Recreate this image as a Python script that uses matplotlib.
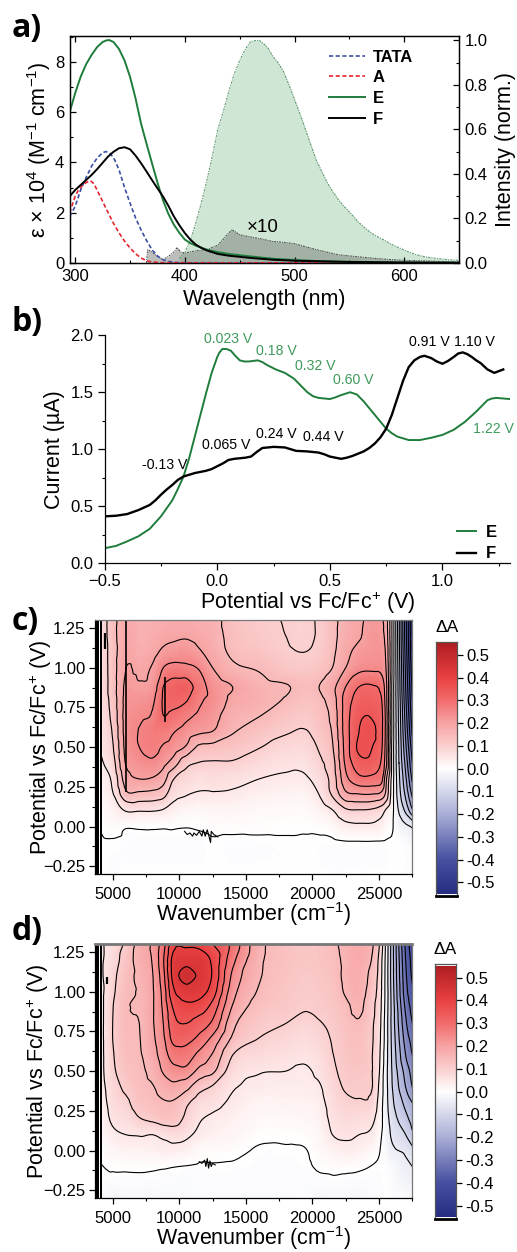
#!/usr/bin/env python

import numpy as np
import matplotlib
matplotlib.use('Agg')
import matplotlib.pyplot as plt
import matplotlib.tri as mtri
from matplotlib.colors import LinearSegmentedColormap, Normalize
from matplotlib.ticker import MultipleLocator

W, H = 517, 1252

plt.rcParams['font.family'] = ['Liberation Sans', 'DejaVu Sans']
plt.rcParams['mathtext.fontset'] = 'custom'
plt.rcParams['mathtext.rm'] = 'Liberation Sans'
plt.rcParams['mathtext.default'] = 'regular'
plt.rcParams['axes.linewidth'] = 0.9

# Panel a: absorption
abs_E_nm = [295, 300, 305, 310, 315, 320, 325, 328, 331, 335, 340, 345, 350, 355, 360, 365, 370, 375, 380, 385, 390, 395, 400, 405, 410, 420, 430, 440, 460, 480, 500, 520, 550, 600, 650]
abs_E = [6.0, 6.75, 7.4, 7.9, 8.27, 8.58, 8.78, 8.84, 8.86, 8.78, 8.5, 8.05, 7.4, 6.55, 5.55, 4.75, 3.97, 3.2, 2.5, 1.95, 1.52, 1.2, 0.93, 0.79, 0.69, 0.53, 0.43, 0.36, 0.26, 0.17, 0.12, 0.08, 0.05, 0.02, 0.01]
abs_F_nm = [295, 300, 305, 310, 315, 320, 325, 330, 335, 340, 345, 350, 355, 360, 365, 370, 375, 380, 385, 390, 395, 400, 405, 410, 415, 420, 430, 440, 460, 480, 500, 550, 600, 650]
abs_F = [2.65, 2.9, 3.1, 3.3, 3.5, 3.73, 3.98, 4.23, 4.42, 4.56, 4.6, 4.52, 4.27, 3.97, 3.64, 3.3, 2.97, 2.65, 2.27, 1.85, 1.5, 1.19, 0.93, 0.73, 0.6, 0.5, 0.36, 0.29, 0.2, 0.13, 0.09, 0.04, 0.02, 0.01]
abs_TATA_nm = [295, 300, 305, 310, 315, 320, 325, 328, 332, 336, 340, 345, 350, 355, 360, 365, 370, 375, 380, 385, 390, 400, 650]
abs_TATA = [1.85, 2.25, 2.9, 3.4, 3.85, 4.17, 4.38, 4.43, 4.35, 4.1, 3.7, 3.0, 2.38, 1.8, 1.32, 0.9, 0.53, 0.28, 0.13, 0.06, 0.03, 0.0, 0.0]
abs_A_nm = [295, 298, 300, 303, 306, 310, 314, 317, 320, 325, 330, 335, 340, 345, 350, 355, 360, 365, 370, 380, 650]
abs_A = [2.0, 2.4, 2.65, 2.9, 3.05, 3.2, 3.27, 3.15, 2.9, 2.45, 2.0, 1.57, 1.2, 0.87, 0.6, 0.37, 0.2, 0.09, 0.04, 0.01, 0.0]

# Panel a: emission
em_E_nm = [395, 400, 405, 410, 415, 420, 425, 430, 435, 440, 445, 450, 455, 460, 465, 468, 472, 476, 480, 485, 490, 495, 500, 505, 510, 515, 520, 525, 530, 535, 540, 545, 551, 558, 566, 573, 581, 588, 596, 604, 611, 620, 630, 640, 650]
em_E = [0.02, 0.05, 0.1, 0.18, 0.27, 0.37, 0.48, 0.6, 0.68, 0.77, 0.85, 0.91, 0.96, 0.995, 1.0, 1.0, 0.985, 0.965, 0.93, 0.9, 0.86, 0.8, 0.735, 0.67, 0.6, 0.53, 0.46, 0.41, 0.36, 0.32, 0.285, 0.255, 0.225, 0.185, 0.15, 0.125, 0.105, 0.085, 0.067, 0.05, 0.037, 0.027, 0.02, 0.015, 0.012]
em_F_nm = [365, 366, 370, 375, 380, 385, 390, 393, 396, 400, 410, 420, 430, 440, 443, 450, 460, 470, 480, 490, 500, 520, 540, 560, 580, 600, 650]
em_F = [0.0, 0.06, 0.05, 0.03, 0.015, 0.03, 0.05, 0.07, 0.05, 0.045, 0.055, 0.06, 0.08, 0.135, 0.15, 0.127, 0.117, 0.108, 0.097, 0.093, 0.087, 0.06, 0.037, 0.027, 0.018, 0.012, 0.005]

# Panel b: voltammetry
cv_E_V = [-0.5, -0.45, -0.4, -0.35, -0.3, -0.25, -0.2, -0.175, -0.15, -0.125, -0.1, -0.075, -0.05, -0.025, 0.0, 0.01, 0.023, 0.04, 0.06, 0.08, 0.1, 0.12, 0.14, 0.16, 0.18, 0.2, 0.22, 0.26, 0.3, 0.34, 0.37, 0.4, 0.425, 0.45, 0.5, 0.525, 0.55, 0.59, 0.62, 0.65, 0.7, 0.725, 0.75, 0.775, 0.8, 0.85, 0.9, 0.95, 1.0, 1.05, 1.1, 1.15, 1.2, 1.22, 1.24, 1.27, 1.3]
cv_E = [0.13, 0.15, 0.19, 0.235, 0.3, 0.41, 0.55, 0.65, 0.76, 0.92, 1.11, 1.3, 1.49, 1.67, 1.81, 1.85, 1.88, 1.88, 1.865, 1.82, 1.78, 1.77, 1.77, 1.775, 1.78, 1.765, 1.74, 1.7, 1.67, 1.62, 1.56, 1.5, 1.465, 1.45, 1.44, 1.455, 1.475, 1.5, 1.48, 1.42, 1.3, 1.24, 1.18, 1.14, 1.11, 1.08, 1.08, 1.1, 1.125, 1.17, 1.24, 1.33, 1.43, 1.445, 1.45, 1.445, 1.44]
cv_F_V = [-0.5, -0.45, -0.4, -0.35, -0.3, -0.275, -0.25, -0.225, -0.2, -0.175, -0.15, -0.125, -0.1, -0.05, -0.025, 0.0, 0.025, 0.05, 0.075, 0.1, 0.125, 0.15, 0.175, 0.2, 0.25, 0.3, 0.325, 0.35, 0.4, 0.45, 0.475, 0.5, 0.55, 0.575, 0.6, 0.65, 0.675, 0.7, 0.725, 0.75, 0.775, 0.8, 0.825, 0.85, 0.875, 0.9, 0.92, 0.95, 0.975, 1.0, 1.025, 1.05, 1.07, 1.09, 1.11, 1.13, 1.15, 1.17, 1.2, 1.23, 1.25, 1.27]
cv_F = [0.41, 0.415, 0.43, 0.465, 0.51, 0.55, 0.6, 0.645, 0.685, 0.73, 0.76, 0.775, 0.79, 0.81, 0.825, 0.85, 0.875, 0.905, 0.915, 0.92, 0.925, 0.935, 0.975, 1.01, 1.02, 1.015, 1.0, 0.985, 0.98, 0.97, 0.955, 0.935, 0.915, 0.925, 0.94, 0.98, 1.01, 1.05, 1.105, 1.18, 1.3, 1.45, 1.6, 1.72, 1.78, 1.81, 1.82, 1.8, 1.77, 1.75, 1.775, 1.81, 1.84, 1.85, 1.835, 1.81, 1.78, 1.755, 1.7, 1.67, 1.685, 1.7]
peak_E = ['0.023 V', '0.18 V', '0.32 V', '0.60 V', '1.22 V']
peak_E_x = [0.05, 0.263, 0.433, 0.604, 1.228]
peak_E_y = [1.965, 1.86, 1.733, 1.61, 1.18]
peak_F = ['-0.13 V', '0.065 V', '0.24 V', '0.44 V', '0.91 V', '1.10 V']
peak_F_x = [-0.232, 0.038, 0.26, 0.473, 0.944, 1.14]
peak_F_y = [0.862, 1.04, 1.135, 1.11, 1.94, 1.94]

# Panels c and d: spectroelectrochemistry, one list per wavenumber column
c_wn = [4175, 5000, 6000, 7000, 8000, 8800, 9500, 10500, 11500, 12500, 14000, 16000, 18000, 19500, 20500, 21500, 22500, 23500, 24500, 25200, 25500, 26000, 26500, 27000, 27500]
c_V = [-0.3, -0.1, 0.0, 0.1, 0.2, 0.3, 0.4, 0.5, 0.6, 0.7, 0.8, 0.88, 1.0, 1.1, 1.2, 1.3]
c_dA = [
    [-0.003, -0.002, 0.002, 0.01, 0.02, 0.03, 0.045, 0.055, 0.06, 0.065, 0.07, 0.07, 0.07, 0.07, 0.07, 0.07],
    [-0.005, -0.002, 0.01, 0.025, 0.045, 0.06, 0.08, 0.095, 0.105, 0.115, 0.12, 0.125, 0.125, 0.125, 0.13, 0.13],
    [-0.003, -0.005, 0.003, 0.052, 0.135, 0.175, 0.205, 0.215, 0.22, 0.22, 0.215, 0.21, 0.2, 0.19, 0.185, 0.18],
    [-0.003, -0.005, 0.004, 0.052, 0.135, 0.2, 0.23, 0.25, 0.252, 0.24, 0.225, 0.205, 0.19, 0.175, 0.17, 0.165],
    [-0.003, -0.005, 0.004, 0.052, 0.13, 0.195, 0.24, 0.265, 0.27, 0.255, 0.24, 0.22, 0.205, 0.185, 0.175, 0.17],
    [-0.003, -0.005, 0.003, 0.045, 0.115, 0.17, 0.215, 0.245, 0.27, 0.3, 0.305, 0.3, 0.25, 0.21, 0.185, 0.175],
    [-0.003, -0.005, 0.003, 0.03, 0.07, 0.105, 0.18, 0.23, 0.255, 0.29, 0.315, 0.32, 0.265, 0.22, 0.19, 0.18],
    [-0.003, -0.005, 0.001, 0.02, 0.052, 0.08, 0.115, 0.195, 0.23, 0.265, 0.305, 0.325, 0.26, 0.225, 0.195, 0.18],
    [-0.003, -0.006, 0.003, 0.015, 0.045, 0.065, 0.098, 0.14, 0.21, 0.24, 0.26, 0.275, 0.245, 0.205, 0.185, 0.17],
    [-0.003, -0.002, 0.006, 0.02, 0.045, 0.07, 0.095, 0.135, 0.2, 0.22, 0.235, 0.23, 0.2, 0.18, 0.17, 0.165],
    [-0.003, -0.005, 0.007, 0.02, 0.042, 0.065, 0.095, 0.125, 0.155, 0.17, 0.19, 0.2, 0.16, 0.14, 0.135, 0.13],
    [-0.003, -0.004, 0.006, 0.015, 0.03, 0.05, 0.075, 0.102, 0.125, 0.152, 0.17, 0.165, 0.145, 0.125, 0.115, 0.11],
    [-0.003, -0.003, 0.005, 0.012, 0.025, 0.042, 0.062, 0.082, 0.105, 0.125, 0.147, 0.153, 0.12, 0.105, 0.1, 0.098],
    [-0.003, -0.003, 0.004, 0.012, 0.025, 0.045, 0.062, 0.08, 0.098, 0.115, 0.13, 0.14, 0.115, 0.1, 0.095, 0.095],
    [-0.003, -0.003, 0.006, 0.025, 0.05, 0.07, 0.09, 0.105, 0.12, 0.13, 0.14, 0.15, 0.125, 0.11, 0.105, 0.105],
    [-0.004, -0.004, 0.015, 0.047, 0.105, 0.12, 0.13, 0.145, 0.155, 0.165, 0.175, 0.185, 0.15, 0.14, 0.135, 0.135],
    [-0.004, -0.002, 0.035, 0.09, 0.185, 0.235, 0.26, 0.27, 0.275, 0.275, 0.27, 0.25, 0.2, 0.185, 0.175, 0.17],
    [-0.004, -0.002, 0.04, 0.095, 0.195, 0.285, 0.33, 0.36, 0.35, 0.34, 0.32, 0.3, 0.235, 0.215, 0.195, 0.19],
    [-0.004, -0.002, 0.04, 0.09, 0.195, 0.285, 0.33, 0.35, 0.36, 0.345, 0.325, 0.305, 0.24, 0.225, 0.22, 0.215],
    [-0.004, -0.002, 0.03, 0.07, 0.18, 0.265, 0.29, 0.305, 0.31, 0.31, 0.3, 0.28, 0.235, 0.22, 0.21, 0.205],
    [-0.004, -0.002, 0.015, 0.045, 0.14, 0.17, 0.225, 0.235, 0.24, 0.24, 0.23, 0.225, 0.205, 0.195, 0.185, 0.18],
    [-0.004, -0.002, 0.002, 0.01, 0.02, 0.025, 0.03, 0.03, 0.035, 0.035, 0.035, 0.035, 0.04, 0.04, 0.04, 0.04],
    [-0.004, -0.004, -0.02, -0.055, -0.08, -0.09, -0.1, -0.105, -0.11, -0.115, -0.12, -0.125, -0.13, -0.135, -0.14, -0.14],
    [-0.005, -0.01, -0.04, -0.11, -0.16, -0.19, -0.215, -0.24, -0.26, -0.275, -0.29, -0.3, -0.31, -0.32, -0.33, -0.33],
    [-0.008, -0.02, -0.055, -0.19, -0.26, -0.31, -0.35, -0.38, -0.41, -0.43, -0.45, -0.46, -0.48, -0.5, -0.5, -0.5],
]

d_wn = [4175, 5000, 6000, 7000, 8000, 8800, 9500, 10500, 11500, 12500, 14000, 16000, 18000, 19500, 20500, 21500, 22500, 23500, 24500, 25000, 25500, 26000, 27000, 27500]
d_V = [-0.3, -0.1, 0.0, 0.1, 0.2, 0.3, 0.4, 0.5, 0.6, 0.7, 0.8, 0.9, 1.0, 1.1, 1.2, 1.3]
d_dA = [
    [-0.01, -0.001, 0.005, 0.015, 0.025, 0.03, 0.035, 0.04, 0.04, 0.04, 0.04, 0.04, 0.04, 0.045, 0.045, 0.045],
    [-0.02, 0.004, 0.02, 0.04, 0.058, 0.07, 0.08, 0.09, 0.095, 0.1, 0.1, 0.098, 0.09, 0.085, 0.075, 0.07],
    [-0.02, 0.005, 0.025, 0.05, 0.068, 0.09, 0.11, 0.125, 0.135, 0.14, 0.145, 0.145, 0.14, 0.135, 0.125, 0.11],
    [-0.02, 0.006, 0.025, 0.053, 0.097, 0.125, 0.135, 0.14, 0.145, 0.148, 0.15, 0.155, 0.155, 0.16, 0.17, 0.17],
    [-0.02, 0.005, 0.03, 0.05, 0.11, 0.135, 0.147, 0.165, 0.18, 0.19, 0.195, 0.195, 0.195, 0.198, 0.205, 0.21],
    [-0.015, 0.003, 0.035, 0.06, 0.125, 0.145, 0.17, 0.205, 0.225, 0.24, 0.25, 0.26, 0.27, 0.285, 0.295, 0.28],
    [-0.015, 0.001, 0.035, 0.07, 0.125, 0.145, 0.185, 0.23, 0.27, 0.31, 0.33, 0.35, 0.385, 0.41, 0.41, 0.38],
    [-0.015, -0.001, 0.03, 0.06, 0.09, 0.11, 0.165, 0.235, 0.275, 0.315, 0.35, 0.385, 0.425, 0.47, 0.43, 0.39],
    [-0.01, -0.003, 0.012, 0.04, 0.055, 0.075, 0.118, 0.185, 0.235, 0.285, 0.325, 0.375, 0.42, 0.44, 0.43, 0.385],
    [-0.01, -0.002, 0.01, 0.03, 0.042, 0.065, 0.095, 0.16, 0.195, 0.235, 0.29, 0.33, 0.375, 0.395, 0.39, 0.35],
    [-0.01, -0.003, 0.008, 0.02, 0.03, 0.042, 0.055, 0.075, 0.1, 0.14, 0.165, 0.195, 0.22, 0.24, 0.265, 0.285],
    [-0.01, -0.005, -0.003, 0.006, 0.015, 0.025, 0.04, 0.053, 0.075, 0.098, 0.115, 0.13, 0.145, 0.155, 0.16, 0.165],
    [-0.01, -0.005, -0.003, 0.006, 0.015, 0.027, 0.038, 0.05, 0.065, 0.083, 0.1, 0.115, 0.12, 0.125, 0.13, 0.13],
    [-0.01, -0.004, -0.001, 0.008, 0.018, 0.028, 0.038, 0.045, 0.058, 0.072, 0.088, 0.103, 0.11, 0.115, 0.12, 0.12],
    [-0.02, 0.004, 0.012, 0.018, 0.028, 0.035, 0.045, 0.06, 0.072, 0.085, 0.097, 0.11, 0.115, 0.12, 0.125, 0.125],
    [-0.02, 0.008, 0.025, 0.05, 0.06, 0.07, 0.08, 0.09, 0.098, 0.103, 0.11, 0.12, 0.125, 0.13, 0.135, 0.14],
    [-0.02, 0.008, 0.035, 0.058, 0.075, 0.09, 0.105, 0.115, 0.12, 0.125, 0.13, 0.14, 0.155, 0.16, 0.16, 0.165],
    [-0.02, 0.005, 0.03, 0.05, 0.072, 0.095, 0.11, 0.12, 0.13, 0.135, 0.145, 0.16, 0.17, 0.175, 0.18, 0.18],
    [-0.012, -0.001, 0.015, 0.04, 0.06, 0.085, 0.1, 0.1, 0.1, 0.103, 0.105, 0.11, 0.12, 0.13, 0.145, 0.155],
    [-0.008, -0.003, 0.002, 0.012, 0.025, 0.035, 0.045, 0.055, 0.06, 0.065, 0.07, 0.075, 0.08, 0.085, 0.09, 0.105],
    [-0.002, -0.005, -0.012, -0.02, -0.025, -0.03, -0.03, -0.03, -0.025, -0.02, -0.02, -0.015, -0.012, -0.012, -0.01, -0.005],
    [-0.005, -0.015, -0.04, -0.06, -0.075, -0.09, -0.1, -0.105, -0.11, -0.115, -0.12, -0.12, -0.125, -0.13, -0.13, -0.13],
    [-0.01, -0.04, -0.06, -0.1, -0.135, -0.165, -0.2, -0.22, -0.25, -0.27, -0.29, -0.31, -0.33, -0.34, -0.35, -0.36],
    [-0.015, -0.05, -0.085, -0.14, -0.17, -0.2, -0.25, -0.27, -0.3, -0.32, -0.35, -0.37, -0.39, -0.41, -0.42, -0.43],
]

# noisy stretch of the zero contour around 12000 cm-1
c_noise_wn = [10400, 10600, 10800, 11000, 11100, 11300, 11500, 11700, 11800, 11950, 12100, 12200, 12350, 12400, 12600, 12900]
c_noise_V = [-0.03, -0.05, -0.04, -0.06, -0.04, -0.055, -0.03, -0.06, -0.02, -0.06, -0.02, -0.05, -0.1, -0.03, -0.05, -0.065]
d_noise_wn = [11500, 11700, 11900, 12000, 12100, 12200, 12300, 12400, 12500, 12700]
d_noise_V = [-0.07, -0.08, -0.06, -0.1, -0.05, -0.11, -0.065, -0.1, -0.08, -0.09]

contour_levels = [round(-0.5 + 0.05 * i, 2) for i in range(21)]
colorbar_ticks = [-0.5, -0.4, -0.3, -0.2, -0.1, 0.0, 0.1, 0.2, 0.3, 0.4, 0.5]

green = '#1f7d3c'
green_text = '#3f9a5c'
dA_cmap = LinearSegmentedColormap.from_list('dA', [
    (0.0, '#262d82'), (0.136, '#4650a0'), (0.318, '#aaafd7'), (0.5, '#ffffff'),
    (0.591, '#fbcfcf'), (0.682, '#f7a3a3'), (0.773, '#f26c6c'), (0.864, '#ea4141'),
    (1.0, '#af1e23')])
dA_norm = Normalize(-0.55, 0.55)


def add_axes(left, top, right, bottom):
    # Axes placed by its pixel edges in the 517x1252 picture
    return fig.add_axes([left / W, 1 - bottom / H, (right - left) / W, (bottom - top) / H])


def panel_label(text, x, y):
    fig.text(x / W, 1 - y / H, text, fontsize=23, fontweight='bold', family='Open Sans', va='baseline')


def draw_map(ax, cax, wn, V, dA, noise_wn, noise_V, top_lw, ylabel_x, xlabel_pad):
    dA = np.array(dA).T
    xx, yy = np.meshgrid(wn, V)
    # Triangulate on a rescaled x so cells split sensibly, let matplotlib smooth the field
    tri = mtri.Triangulation(xx.ravel() / 20000.0, yy.ravel())
    smooth = mtri.CubicTriInterpolator(tri, dA.ravel(), kind='geom')
    fine_tri, fine_dA = mtri.UniformTriRefiner(tri).refine_field(dA.ravel(), triinterpolator=smooth, subdiv=3)
    fine = mtri.Triangulation(fine_tri.x * 20000.0, fine_tri.y, fine_tri.triangles)

    ax.tripcolor(fine, fine_dA, cmap=dA_cmap, norm=dA_norm, shading='gouraud', rasterized=True)
    ax.tricontour(fine, fine_dA, levels=contour_levels, colors='black', linewidths=0.8, linestyles='solid')
    ax.plot(noise_wn, noise_V, color='black', lw=0.8)
    # stacks of contours at the detector edge
    ax.axvspan(3694, 4000, color='black', lw=0)
    ax.axvspan(4050, 4175, color='black', lw=0)

    ax.set_xlim(3694, 27500)
    ax.set_ylim(-0.30, 1.30)
    ax.xaxis.set_major_locator(MultipleLocator(5000))
    ax.xaxis.set_minor_locator(MultipleLocator(2500))
    ax.yaxis.set_major_locator(MultipleLocator(0.25))
    ax.yaxis.set_minor_locator(MultipleLocator(0.125))
    ax.yaxis.set_major_formatter('{x:.2f}')
    ax.tick_params(which='major', length=4, labelsize=12, width=0.9, pad=3)
    ax.tick_params(axis='x', which='major', pad=5)
    ax.tick_params(which='minor', length=2.5, width=0.8)
    ax.spines['top'].set_color('#777777')
    ax.spines['top'].set_linewidth(top_lw)
    ax.spines['right'].set_color('#777777')
    ax.set_xlabel('Wavenumber (cm$^{-1}$)', fontsize=15.5, labelpad=xlabel_pad)
    ax.set_ylabel('Potential vs Fc/Fc$^{+}$ (V)', fontsize=15.5)
    ax.yaxis.set_label_coords(ylabel_x, 0.5)

    cax.imshow(np.linspace(-0.55, 0.55, 256)[:, None], origin='lower', extent=[0, 1, -0.55, 0.55],
               aspect='auto', cmap=dA_cmap, norm=dA_norm)
    cax.set_ylim(-0.559, 0.558)
    cax.set_xticks([])
    cax.yaxis.tick_right()
    cax.set_yticks(colorbar_ticks)
    cax.set_yticklabels(['%.1f' % t for t in colorbar_ticks])
    cax.tick_params(length=4, labelsize=12, width=0.9, pad=3)
    for side in ['left', 'right', 'top']:
        cax.spines[side].set_color('#555555')
    cax.spines['bottom'].set_linewidth(2)


fig = plt.figure(figsize=(W / 100, H / 100), dpi=100)

# a) absorption and emission
ax_a = add_axes(69.7, 36, 459, 263)
ax_em = ax_a.twinx()
ax_a.set_zorder(ax_em.get_zorder() + 1)
ax_a.patch.set_visible(False)

ax_em.fill_between(em_E_nm, em_E, 0, color='#d0e6d5', lw=0)
ax_em.plot(em_E_nm, em_E, color='#5f9a72', lw=0.8, ls=(0, (2, 1, 1, 1)))
ax_em.fill_between(em_F_nm, em_F, 0, color='#6b6f6b', alpha=0.45, lw=0)
ax_em.plot(em_F_nm, em_F, color='#444444', lw=0.7, ls=(0, (2, 1, 1, 1)))
ax_em.set_ylim(0, 1.02)
ax_em.yaxis.set_major_locator(MultipleLocator(0.2))
ax_em.yaxis.set_minor_locator(MultipleLocator(0.1))
ax_em.tick_params(which='major', direction='in', length=4, labelsize=12, width=0.9, pad=4)
ax_em.tick_params(which='minor', direction='in', length=2.5, width=0.8)
ax_em.set_ylabel('Intensity (norm.)', fontsize=15.5, labelpad=5)

ax_a.plot(abs_TATA_nm, abs_TATA, color='#3c4fa5', lw=1.2, ls=(0, (2.5, 1.5)), label='TATA')
ax_a.plot(abs_A_nm, abs_A, color='#e8252f', lw=1.2, ls=(0, (2.5, 1.5)), label='A')
ax_a.plot(abs_E_nm, abs_E, color=green, lw=1.4, label='E')
ax_a.plot(abs_F_nm, abs_F, color='black', lw=1.4, label='F')
ax_a.set_xlim(295, 650)
ax_a.set_ylim(0, 9.02)
ax_a.xaxis.set_major_locator(MultipleLocator(100))
ax_a.xaxis.set_minor_locator(MultipleLocator(50))
ax_a.yaxis.set_major_locator(MultipleLocator(2))
ax_a.yaxis.set_minor_locator(MultipleLocator(1))
ax_a.tick_params(which='major', direction='in', length=4, labelsize=12, width=0.9, pad=4, top=True)
ax_a.tick_params(which='minor', direction='in', length=2.5, width=0.8, top=True)
ax_a.set_xlabel('Wavelength (nm)', fontsize=15.5, labelpad=4)
ax_a.set_ylabel('ε × 10$^{4}$ (M$^{-1}$ cm$^{-1}$)', fontsize=15.5, labelpad=1)
ax_a.text(471, 1.43, '×10', fontsize=13.5, ha='center', va='center')
ax_a.legend(loc='upper left', bbox_to_anchor=(0.665, 0.94), frameon=False, handlelength=2.2,
            handletextpad=0.45, labelspacing=0.34, borderpad=0, borderaxespad=0,
            prop={'weight': 'bold', 'size': 12})

# b) voltammetry
ax_b = add_axes(104.7, 335.3, 510, 563)
ax_b.plot(cv_E_V, cv_E, color=green, lw=1.4, label='E')
ax_b.plot(cv_F_V, cv_F, color='black', lw=1.7, label='F')
ax_b.set_xlim(-0.5, 1.3)
ax_b.set_ylim(0, 2)
ax_b.spines['top'].set_visible(False)
ax_b.spines['right'].set_visible(False)
ax_b.xaxis.set_major_locator(MultipleLocator(0.5))
ax_b.xaxis.set_minor_locator(MultipleLocator(0.25))
ax_b.yaxis.set_major_locator(MultipleLocator(0.5))
ax_b.yaxis.set_minor_locator(MultipleLocator(0.25))
ax_b.xaxis.set_major_formatter('{x:.1f}')
ax_b.tick_params(which='major', length=5, labelsize=12, width=0.9, pad=3)
ax_b.tick_params(which='minor', length=2.5, width=0.8)
ax_b.set_xlabel('Potential vs Fc/Fc$^{+}$ (V)', fontsize=15.5, labelpad=0)
ax_b.set_ylabel('Current (µA)', fontsize=15.5, labelpad=4)
for label, x, y in zip(peak_E, peak_E_x, peak_E_y):
    ax_b.text(x, y, label, color=green_text, fontsize=10.2, ha='center', va='center')
for label, x, y in zip(peak_F, peak_F_x, peak_F_y):
    ax_b.text(x, y, label, color='black', fontsize=10.2, ha='center', va='center')
ax_b.legend(loc='lower right', bbox_to_anchor=(0.968, 0.007), frameon=False, handlelength=1.15,
            handletextpad=0.6, labelspacing=0.4, borderpad=0, borderaxespad=0,
            prop={'weight': 'bold', 'size': 12})

# c) and d) spectroelectrochemistry
ax_c = add_axes(95.3, 620, 412.3, 874.3)
cax_c = add_axes(436, 641.7, 456.7, 895.7)
draw_map(ax_c, cax_c, c_wn, c_V, c_dA, c_noise_wn, c_noise_V, 0.9, -0.13, -1)
ax_c.vlines(6000, 0.22, 1.3, color='black', lw=1.2)
ax_c.vlines(8900, 0.66, 0.94, color='black', lw=1.2)
ax_c.vlines(4425, 1.12, 1.22, color='black', lw=1.6)

ax_d = add_axes(95.3, 944, 412.3, 1198.3)
cax_d = add_axes(435, 964.3, 455.7, 1219)
draw_map(ax_d, cax_d, d_wn, d_V, d_dA, d_noise_wn, d_noise_V, 2.0, -0.14, -1)
ax_d.vlines(4550, 1.05, 1.09, color='black', lw=1.6)

fig.text(447 / W, 1 - 628 / H, 'ΔA', fontsize=12.5, ha='center', va='center')
fig.text(445 / W, 1 - 950 / H, 'ΔA', fontsize=12.5, ha='center', va='center')

panel_label('a)', 12, 37)
panel_label('b)', 12, 331)
panel_label('c)', 12, 630)
panel_label('d)', 12, 940)

fig.savefig('out.png', dpi=100)
